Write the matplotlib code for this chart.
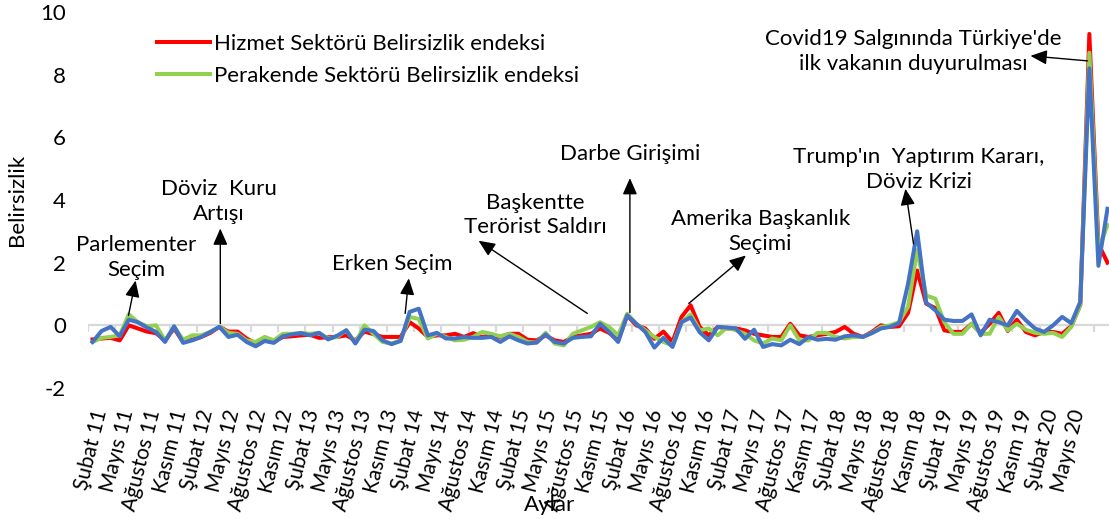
import matplotlib
matplotlib.use('Agg')
import matplotlib.pyplot as plt

plt.rcParams['font.family'] = ['Lato', 'DejaVu Sans']
plt.rcParams['axes.unicode_minus'] = False

# Ocak 2011 - Mayıs 2020, aylık
hizmet = [-0.45, -0.42, -0.40, -0.48, 0.0, -0.10, -0.20, -0.25, -0.48, -0.10,
          -0.53, -0.46, -0.37, -0.24, -0.05, -0.20, -0.20, -0.42, -0.58, -0.48,
          -0.53, -0.37, -0.35, -0.32, -0.30, -0.40, -0.38, -0.37, -0.32, -0.48,
          -0.20, -0.28, -0.37, -0.37, -0.37, 0.10, -0.10, -0.37, -0.32, -0.32,
          -0.27, -0.37, -0.25, -0.37, -0.32, -0.37, -0.27, -0.27, -0.46, -0.48,
          -0.32, -0.48, -0.53, -0.37, -0.32, -0.27, -0.10, -0.24, -0.48, 0.32,
          0.0, -0.10, -0.43, -0.20, -0.53, 0.27, 0.64, -0.05, -0.32, -0.05,
          -0.10, -0.10, -0.16, -0.27, -0.32, -0.37, -0.37, 0.05, -0.32, -0.37,
          -0.32, -0.27, -0.21, -0.05, -0.27, -0.37, -0.21, 0.0, -0.05, -0.03,
          0.40, 1.75, 0.69, 0.55, -0.16, -0.21, -0.21, 0.05, -0.24, 0.05,
          0.40, -0.18, 0.18, -0.21, -0.32, -0.21, -0.21, -0.27, -0.03, 0.65,
          9.3, 2.6, 2.0]

perakende = [-0.53, -0.40, -0.37, -0.32, 0.35, 0.10, -0.03, 0.0, -0.48, -0.05,
             -0.46, -0.32, -0.32, -0.21, -0.05, -0.24, -0.27, -0.48, -0.53, -0.37,
             -0.48, -0.27, -0.27, -0.24, -0.27, -0.24, -0.42, -0.37, -0.15, -0.56,
             0.0, -0.27, -0.53, -0.58, -0.48, 0.27, 0.20, -0.42, -0.27, -0.37,
             -0.48, -0.46, -0.37, -0.21, -0.27, -0.35, -0.27, -0.37, -0.53, -0.55,
             -0.24, -0.58, -0.64, -0.27, -0.16, -0.05, 0.10, -0.05, -0.32, 0.37,
             0.05, -0.16, -0.37, -0.53, -0.64, 0.10, 0.35, -0.16, -0.10, -0.32,
             -0.07, -0.16, -0.27, -0.48, -0.58, -0.42, -0.48, 0.0, -0.48, -0.48,
             -0.24, -0.24, -0.37, -0.42, -0.37, -0.37, -0.24, -0.05, 0.0, 0.10,
             0.60, 2.4, 0.95, 0.85, 0.10, -0.27, -0.27, 0.05, -0.27, -0.27,
             0.27, -0.16, 0.05, -0.14, -0.24, -0.27, -0.24, -0.37, -0.05, 0.65,
             8.7, 2.4, 3.2]

genel = [-0.53, -0.18, -0.05, -0.35, 0.18, 0.10, -0.07, -0.21, -0.53, -0.03,
         -0.56, -0.48, -0.37, -0.21, -0.05, -0.37, -0.30, -0.53, -0.67, -0.50,
         -0.56, -0.35, -0.29, -0.25, -0.32, -0.24, -0.45, -0.33, -0.16, -0.58,
         -0.14, -0.18, -0.48, -0.60, -0.50, 0.43, 0.53, -0.32, -0.24, -0.42,
         -0.42, -0.37, -0.40, -0.40, -0.37, -0.53, -0.35, -0.48, -0.58, -0.55,
         -0.29, -0.53, -0.58, -0.40, -0.37, -0.35, 0.05, -0.21, -0.53, 0.32,
         0.05, -0.21, -0.71, -0.40, -0.69, 0.10, 0.25, -0.22, -0.48, -0.05,
         -0.07, -0.10, -0.43, -0.14, -0.69, -0.60, -0.64, -0.46, -0.60, -0.37,
         -0.46, -0.43, -0.46, -0.35, -0.32, -0.37, -0.25, -0.10, -0.05, 0.07,
         1.33, 3.0, 0.72, 0.48, 0.18, 0.14, 0.14, 0.35, -0.32, 0.18,
         0.10, 0.0, 0.46, 0.16, -0.10, -0.21, 0.0, 0.27, 0.07, 0.75,
         8.2, 1.9, 3.72]

aylar = ['Şubat', 'Mayıs', 'Ağustos', 'Kasım']
yillar = list(range(11, 21))

# (metin, metin konumu, ok başı, ok kuyruğu)
olaylar = [
    ("Parlementer\nSeçim", (4.8, 2.17), (4.75, 1.43), (3.97, 0.32)),
    ("Döviz  Kuru\nArtışı", (13.9, 3.95), (14.1, 3.09), (14.1, 0.06)),
    ("Erken Seçim", (33.1, 1.97), (34.9, 1.5), (34.5, 0.38)),
    ("Başkentte\nTerörist Saldırı", (48.9, 3.52), (42.6, 2.7), (54.6, 0.38)),
    ("Darbe Girişimi", (59.3, 5.48), (59.3, 4.7), (59.3, 0.41)),
    ("Amerika Başkanlık\nSeçimi", (73.7, 3.0), (72.1, 2.23), (65.8, 0.7)),
    ("Trump'ın  Yaptırım Kararı,\nDöviz Krizi", (91.2, 4.97), (89.7, 4.36), (90.6, 2.6)),
    ("Covid19 Salgınında Türkiye'de\nilk vakanın duyurulması", (90.6, 8.73), (103.5, 8.6), (109.8, 8.44)),
]

x = list(range(len(hizmet)))
etiketler = []
for y in yillar:
    for a in aylar:
        etiketler.append(f"{a} {y}")
etiketler = etiketler[:38]
# etiketler orijinalde 3 aydan biraz sık diziliyor
etiket_yer = [1 + 2.915 * k for k in range(len(etiketler))]

fig = plt.figure(figsize=(11.09, 5.19), dpi=100)
ax = fig.add_axes([88 / 1109, 1 - 388 / 519, 1024 / 1109, 376 / 519])

ax.axhline(0, color='#d9d9d9', lw=1.6, zorder=1)
ax.vlines([b - 0.5 for b in range(0, 114, 3)], -0.2, 0, color='#d9d9d9', lw=1.6, zorder=1)

ax.plot(x, hizmet, color='#ff0000', lw=2.9, label='Hizmet Sektörü Belirsizlik endeksi', zorder=3)
ax.plot(x, perakende, color='#92d050', lw=2.9, label='Perakende Sektörü Belirsizlik endeksi', zorder=4)
ax.plot(x, genel, color='#4472c4', lw=2.9, zorder=5)

for metin, tpos, bas, kuyruk in olaylar:
    ax.text(tpos[0], tpos[1], metin, ha='center', va='center', fontsize=16,
            linespacing=1.3, zorder=6)
    ax.annotate('', xy=bas, xytext=kuyruk,
                arrowprops=dict(arrowstyle='-|>,head_length=0.5,head_width=0.22',
                                color='black', lw=1.0, mutation_scale=20,
                                shrinkA=0, shrinkB=0), zorder=6)

ax.set_xlim(-0.5, 112.5)
ax.set_ylim(-2, 10)
ax.set_yticks(range(-2, 11, 2))
ax.set_xticks(etiket_yer)
ax.set_xticklabels(etiketler, rotation=76, ha='right', va='center',
                   rotation_mode='anchor', fontsize=15)
ax.tick_params(axis='both', length=0)
ax.tick_params(axis='y', labelsize=16, pad=16)
ax.tick_params(axis='x', pad=16)
for s in ax.spines.values():
    s.set_visible(False)

ax.set_ylabel('Belirsizlik', fontsize=16, va='center')
ax.yaxis.set_label_coords(-0.069, 0.5)
ax.set_xlabel('Aylar', fontsize=16, va='center')
ax.xaxis.set_label_coords(0.451, -0.311)

ax.legend(loc='upper left', bbox_to_anchor=(0.0586, 0.965), borderaxespad=0,
          frameon=False, fontsize=16, handlelength=2.4, handletextpad=0.15,
          labelspacing=0.55)

plt.savefig('out.png', dpi=100)
